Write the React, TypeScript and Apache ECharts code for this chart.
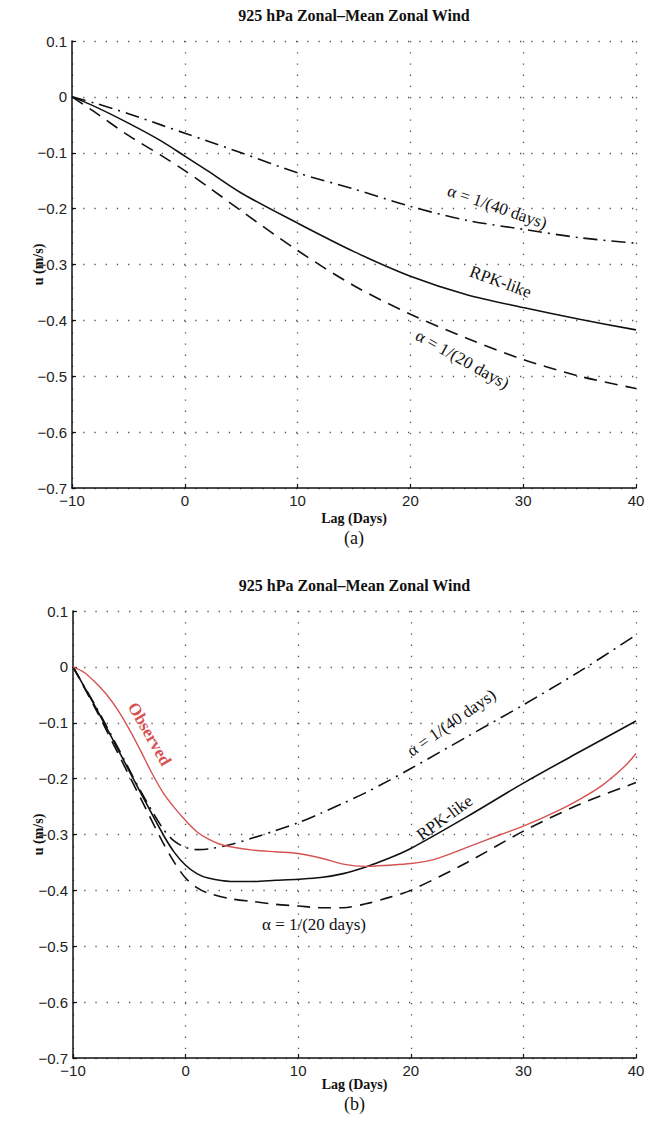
import React, { useEffect, useRef } from "react";
import * as echarts from "echarts";

// ---------- Data ----------
const xTicks = [-10, 0, 10, 20, 30, 40];

// Panel (a)
const lagsA = [-10, -8, -5, -2, 0, 2, 5, 10, 15, 20, 25, 30, 35, 40];
const rpkA = [0, -0.017, -0.047, -0.08, -0.106, -0.132, -0.172, -0.226, -0.277, -0.321, -0.354, -0.377, -0.398, -0.417];
const alpha20A = [0, -0.027, -0.069, -0.106, -0.132, -0.16, -0.204, -0.275, -0.338, -0.389, -0.432, -0.47, -0.5, -0.522];
const alpha40A = [0, -0.011, -0.03, -0.051, -0.065, -0.079, -0.1, -0.136, -0.165, -0.196, -0.221, -0.237, -0.252, -0.262];

// Panel (b)
const lagsB = [-10, -8, -6, -4, -2, -1, 0, 1, 2, 4, 6, 8, 10, 12, 14, 16, 18, 20, 25, 30, 35, 40];
const rpkB = [0, -0.072, -0.148, -0.225, -0.3, -0.332, -0.355, -0.37, -0.378, -0.384, -0.384, -0.382, -0.38, -0.377, -0.37, -0.358, -0.343, -0.325, -0.268, -0.208, -0.152, -0.097];
const alpha20B = [0, -0.075, -0.155, -0.235, -0.315, -0.35, -0.378, -0.395, -0.405, -0.415, -0.42, -0.425, -0.428, -0.431, -0.431, -0.424, -0.413, -0.4, -0.35, -0.294, -0.246, -0.207];
const alpha40B = [0, -0.07, -0.145, -0.222, -0.29, -0.312, -0.323, -0.327, -0.326, -0.318, -0.306, -0.293, -0.279, -0.262, -0.244, -0.225, -0.204, -0.182, -0.125, -0.068, -0.008, 0.057];
const lagsObs = [-10, -9, -8, -7, -6, -5, -4, -3, -2, -1, 0, 1, 2, 3, 4, 6, 8, 10, 12, 14, 16, 18, 20, 22, 25, 28, 30, 33, 35, 37, 39, 40];
const observed = [0, -0.01, -0.028, -0.05, -0.078, -0.112, -0.15, -0.19, -0.225, -0.252, -0.275, -0.295, -0.308, -0.317, -0.322, -0.328, -0.331, -0.334, -0.342, -0.353, -0.357, -0.355, -0.352, -0.345, -0.323, -0.3, -0.285, -0.258, -0.237, -0.212, -0.178, -0.155];

// Annotations: [text, lag, u, rotation(deg), color]
const annotationsA: [string, number, number, number, string][] = [
  ["α = 1/(40 days)", 27.7, -0.197, -19, "#111"],
  ["RPK-like", 28, -0.331, -20, "#111"],
  ["α = 1/(20 days)", 24.6, -0.47, -29, "#111"],
];
const annotationsB: [string, number, number, number, string][] = [
  ["Observed", -3.2, -0.12, -60, "#d65252"],
  ["α = 1/(40 days)", 23.6, -0.1, 35, "#111"],
  ["RPK-like", 23, -0.27, 36, "#111"],
  ["α = 1/(20 days)", 11.4, -0.461, 0, "#111"],
];

const TITLE = "925 hPa Zonal–Mean Zonal Wind";

const pairs = (xs: number[], ys: number[]) => xs.map((x, i) => [x, ys[i]]);

const SERIF = "'Liberation Serif', 'DejaVu Serif', serif";
const SANS = "'Liberation Sans', Arial, sans-serif";

const fmtY = (v: number) => {
  if (Math.abs(v) < 1e-9) return "0";
  return (v < 0 ? "\u2212" : "") + Math.abs(v).toFixed(1);
};
const fmtX = (v: number) => (v < 0 ? "\u2212" : "") + Math.abs(v);

const GRIDS = [
  { left: 72, top: 41, width: 564, height: 447 },
  { left: 73, top: 611, width: 563, height: 447 },
];

function makeXAxis(gridIndex: number) {
  return {
    type: "value",
    gridIndex,
    min: xTicks[0],
    max: xTicks[xTicks.length - 1],
    interval: 10,
    axisLine: { show: true, onZero: false, lineStyle: { color: "#111", width: 1.5 } },
    axisTick: { show: true, inside: true, length: 4, lineStyle: { color: "#111", width: 1.2 } },
    axisLabel: { formatter: fmtX, color: "#222", fontFamily: SANS, fontSize: 15, margin: 5 },
    splitLine: { show: true, lineStyle: { color: "#555", width: 1.3, type: [1.3, 9.9] } },
  };
}
function makeYAxis(gridIndex: number) {
  return {
    type: "value",
    gridIndex,
    min: -0.7,
    max: 0.1,
    interval: 0.1,
    axisLine: { show: true, onZero: false, lineStyle: { color: "#111", width: 1.5 } },
    axisTick: { show: true, inside: true, length: 4, lineStyle: { color: "#111", width: 1.2 } },
    axisLabel: { formatter: fmtY, color: "#222", fontFamily: SANS, fontSize: 15, margin: 5 },
    splitLine: { show: true, lineStyle: { color: "#555", width: 1.3, type: [1.3, 9.9] } },
  };
}

function line(name: string, gi: number, data: number[][], color: string, type: any, width = 1.6) {
  return {
    name,
    type: "line",
    xAxisIndex: gi,
    yAxisIndex: gi,
    data,
    showSymbol: false,
    symbol: "none",
    smooth: 0.3,
    lineStyle: { color, width, type },
    z: 3,
  };
}

export default function App() {
  const ref = useRef<HTMLDivElement>(null);
  useEffect(() => {
    if (!ref.current) return;
    const chart = echarts.init(ref.current, undefined, { renderer: "svg" });
    const DASH = [13, 8];
    const DASHDOT = [14, 6, 2, 6];
    chart.setOption({
      animation: false,
      backgroundColor: "#fff",
      grid: GRIDS.map((g) => ({ ...g, containLabel: false })),
      xAxis: [makeXAxis(0), makeXAxis(1)],
      yAxis: [makeYAxis(0), makeYAxis(1)],
      series: [
        line("RPK-like (a)", 0, pairs(lagsA, rpkA), "#111", "solid"),
        line("α = 1/(20 days) (a)", 0, pairs(lagsA, alpha20A), "#111", DASH),
        line("α = 1/(40 days) (a)", 0, pairs(lagsA, alpha40A), "#111", DASHDOT),
        line("RPK-like (b)", 1, pairs(lagsB, rpkB), "#111", "solid"),
        line("α = 1/(20 days) (b)", 1, pairs(lagsB, alpha20B), "#111", DASH),
        line("α = 1/(40 days) (b)", 1, pairs(lagsB, alpha40B), "#111", DASHDOT),
        line("Observed", 1, pairs(lagsObs, observed), "#d65252", "solid", 1.4),
      ],
    });

    const graphics: any[] = [];
    const text = (t: string, x: number, y: number, size: number, opts: any = {}) => ({
      type: "text",
      x,
      y,
      rotation: opts.rotation || 0,
      style: {
        text: t,
        fill: opts.color || "#111",
        font: `${opts.weight || "normal"} ${size}px ${SERIF}`,
        textAlign: "center",
        textVerticalAlign: "middle",
      },
      z: 10,
    });
    GRIDS.forEach((g, gi) => {
      const cx = g.left + g.width / 2;
      graphics.push(text(TITLE, cx, g.top - 26, 16, { weight: "bold" }));
      graphics.push(text("Lag (Days)", cx, g.top + g.height + (gi === 0 ? 30 : 26), 14, { weight: "bold" }));
      graphics.push(text(gi === 0 ? "(a)" : "(b)", cx, g.top + g.height + (gi === 0 ? 50 : 46), 18));
      graphics.push(text("u (m/s)", 38, g.top + g.height / 2, 14, { weight: "bold", rotation: Math.PI / 2 }));
    });
    [annotationsA, annotationsB].forEach((list, gi) => {
      list.forEach(([t, lx, u, rot, color]) => {
        const p = chart.convertToPixel({ gridIndex: gi } as any, [lx, u]) as number[];
        graphics.push(
          text(t, p[0], p[1], 17, { rotation: (rot * Math.PI) / 180, color, weight: t === "Observed" ? "bold" : "normal" })
        );
      });
    });
    chart.setOption({ graphic: graphics });

    return () => chart.dispose();
  }, []);
  return <div ref={ref} style={{ position: "absolute", left: 0, top: 0, width: 650, height: 1127 }} />;
}
